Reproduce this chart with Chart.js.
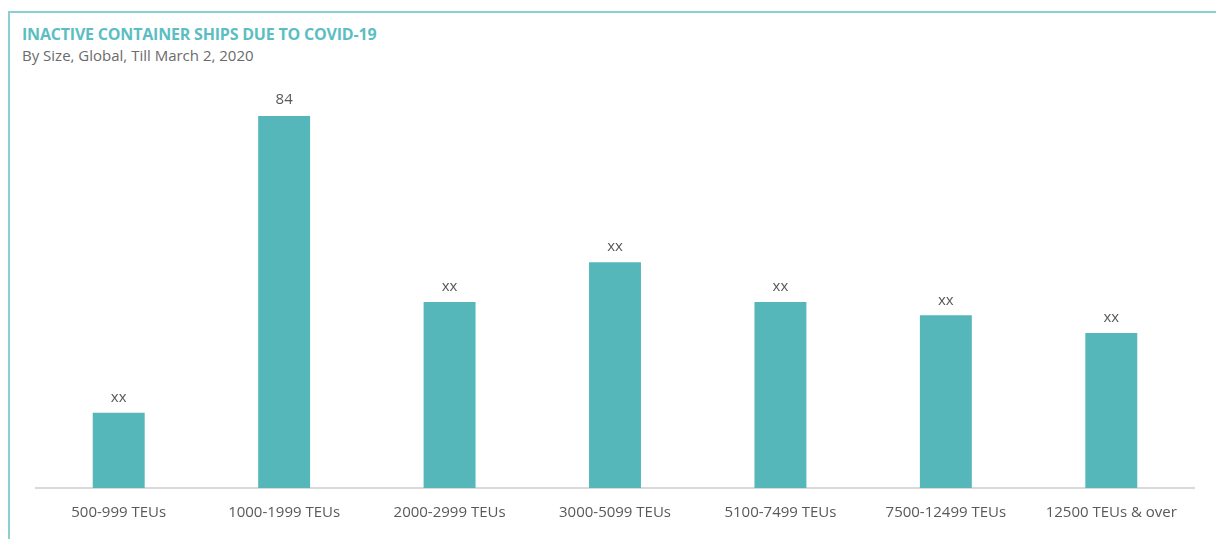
<!DOCTYPE html>
<html>
<head>
<meta charset="utf-8">
<script src="https://cdn.jsdelivr.net/npm/chart.js@4"></script>
<style>
  html, body { margin: 0; padding: 0; background: #fff; }
  #wrap { position: relative; width: 1216px; height: 539px; overflow: hidden; font-family: "Open Sans", sans-serif; }
  #frame { position: absolute; left: 8px; top: 11px; width: 1220px; height: 540px; border-left: 2px solid #8ccfd2; border-top: 2px solid #8ccfd2; }
  #title { position: absolute; left: 22px; top: 23px; font-size: 16px; font-weight: bold; color: #5bbec2; letter-spacing: -0.2px; }
  #subtitle { position: absolute; left: 22px; top: 45px; font-size: 15px; color: #6b6b6b; letter-spacing: 0; }
  canvas { position: absolute; left: 0; top: 0; }
</style>
</head>
<body>
<div id="wrap">
  <div id="frame"></div>
  <div id="title">INACTIVE CONTAINER SHIPS DUE TO COVID-19</div>
  <div id="subtitle">By Size, Global, Till March 2, 2020</div>
  <canvas id="c" width="1216" height="539"></canvas>
</div>
<script>
const categories = ["500-999 TEUs", "1000-1999 TEUs", "2000-2999 TEUs", "3000-5099 TEUs", "5100-7499 TEUs", "7500-12499 TEUs", "12500 TEUs & over"];
const values = [17, 84, 42, 51, 42, 39, 35];
const valueLabels = ["xx", "84", "xx", "xx", "xx", "xx", "xx"];

const labelPlugin = {
  id: 'valueLabels',
  afterDatasetsDraw(chart) {
    const ctx = chart.ctx;
    const meta = chart.getDatasetMeta(0);
    ctx.save();
    ctx.textAlign = 'center';
    ctx.textBaseline = 'middle';
    meta.data.forEach((bar, i) => {
      const big = valueLabels[i] !== 'xx';
      ctx.font = (big ? '15px' : '15px') + ' "Open Sans", sans-serif';
      ctx.fillStyle = '#595959';
      ctx.fillText(valueLabels[i], bar.x, bar.y - (big ? 16 : 15));
    });
    ctx.restore();
  }
};

new Chart(document.getElementById('c'), {
  type: 'bar',
  data: {
    labels: categories,
    datasets: [{
      data: values,
      backgroundColor: '#56b7bb',
      borderColor: '#56b7bb',
      borderWidth: 0,
      barPercentage: 1,
      categoryPercentage: 0.314
    }]
  },
  options: {
    responsive: false,
    animation: false,
    devicePixelRatio: 1,
    layout: { padding: { left: 36, right: 22, top: 89.5, bottom: 1 } },
    plugins: { legend: { display: false }, tooltip: { enabled: false } },
    scales: {
      x: {
        grid: { display: false, drawTicks: false },
        border: { display: true, color: '#d9d9d9', width: 2 },
        ticks: { color: '#595959', font: { family: '"Open Sans", sans-serif', size: 15 }, padding: 16, maxRotation: 0, autoSkip: false }
      },
      y: {
        display: false,
        min: 0,
        max: 90
      }
    }
  },
  plugins: [labelPlugin]
});
</script>
</body>
</html>
